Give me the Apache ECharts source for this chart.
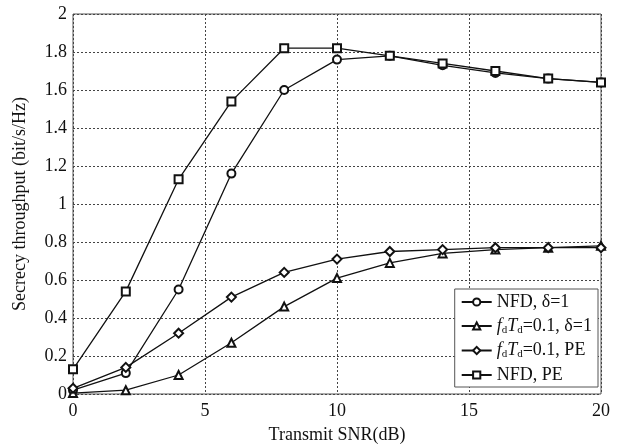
<!DOCTYPE html>
<html>
<head>
<meta charset="utf-8">
<script src="https://cdn.jsdelivr.net/npm/echarts@6/dist/echarts.min.js"></script>
<style>html,body{margin:0;padding:0;background:#fff}#c{width:620px;height:445px}</style>
</head>
<body>
<div id="c"></div>
<script>
var snr = [0, 2, 4, 6, 8, 10, 12, 14, 16, 18, 20];
var nfdDelta = [0.02, 0.11, 0.55, 1.16, 1.60, 1.76, 1.78, 1.73, 1.69, 1.66, 1.64];
var fdDelta = [0.005, 0.02, 0.10, 0.27, 0.46, 0.61, 0.69, 0.74, 0.76, 0.77, 0.78];
var fdPE = [0.03, 0.14, 0.32, 0.51, 0.64, 0.71, 0.75, 0.76, 0.77, 0.77, 0.77];
var nfdPE = [0.13, 0.54, 1.13, 1.54, 1.82, 1.82, 1.78, 1.74, 1.70, 1.66, 1.64];
var xTicks = [0, 5, 10, 15, 20];
var yTicks = [0, 0.2, 0.4, 0.6, 0.8, 1, 1.2, 1.4, 1.6, 1.8, 2];

var names = ['NFD, δ=1', 'fdTd=0.1, δ=1', 'fdTd=0.1, PE', 'NFD, PE'];
var symbols = ['emptyCircle', 'emptyTriangle', 'emptyDiamond', 'emptyRect'];
var datas = [nfdDelta, fdDelta, fdPE, nfdPE];
var font = '"Liberation Serif", "Times New Roman", serif';

function pairs(arr) { return snr.map(function (x, i) { return [x, arr[i]]; }); }

var series = names.map(function (n, k) {
  return {
    name: n, type: 'line', data: pairs(datas[k]),
    symbol: symbols[k], symbolSize: k === 2 ? 9 : 8,
    lineStyle: { color: '#111', width: 1.3 },
    itemStyle: { color: '#111', borderWidth: 1.2 },
    z: 3 + k
  };
});

var chart = echarts.init(document.getElementById('c'), null, { renderer: 'canvas' });
chart.setOption({
  backgroundColor: '#fff',
  animation: false,
  grid: { left: 73, right: 19, top: 14, bottom: 51, outerBoundsMode: 'none', containLabel: false,
    show: true, borderColor: '#555', borderWidth: 1, backgroundColor: 'transparent' },
  xAxis: {
    type: 'value', min: 0, max: 20, interval: 5,
    name: 'Transmit SNR(dB)', nameLocation: 'middle', nameGap: 32,
    nameTextStyle: { fontFamily: font, fontSize: 18, color: '#111' },
    axisLine: { show: false }, axisTick: { show: false },
    axisLabel: { fontFamily: font, fontSize: 18, color: '#111', margin: 8,
      formatter: function (v) { return xTicks.indexOf(v) >= 0 ? String(v) : ''; } },
    splitLine: { show: true, lineStyle: { color: '#444', type: [2, 2], width: 1 } }
  },
  yAxis: {
    type: 'value', min: 0, max: 2, interval: 0.2,
    name: 'Secrecy throughput (bit/s/Hz)', nameLocation: 'middle', nameGap: 44,
    nameTextStyle: { fontFamily: font, fontSize: 18, color: '#111' },
    axisLine: { show: false }, axisTick: { show: false },
    axisLabel: { fontFamily: font, fontSize: 18, color: '#111', margin: 6,
      formatter: function (v) {
        var r = Math.round(v * 10) / 10;
        return yTicks.indexOf(r) >= 0 ? String(r) : '';
      } },
    splitLine: { show: true, lineStyle: { color: '#444', type: [2, 2], width: 1 } }
  },
  legend: {
    orient: 'vertical', right: 22, bottom: 58,
    backgroundColor: '#fff', borderColor: '#555', borderWidth: 1,
    padding: [4, 6, 3, 6], itemGap: 6, itemWidth: 30, itemHeight: 9,
    data: names,
    formatter: function (n) {
      if (n.indexOf('fdTd') === 0) {
        return '{i|f}{s|d}{i|T}{s|d}{t|' + n.slice(4) + '}';
      }
      return '{t|' + n + '}';
    },
    textStyle: {
      fontFamily: font, fontSize: 18, color: '#111',
      rich: {
        t: { fontFamily: font, fontSize: 18, color: '#111' },
        i: { fontFamily: font, fontSize: 18, fontStyle: 'italic', color: '#111' },
        s: { fontFamily: font, fontSize: 11, color: '#111', verticalAlign: 'bottom', padding: [8, 0, 0, 0] }
      }
    }
  },
  series: series
});
</script>
</body>
</html>
